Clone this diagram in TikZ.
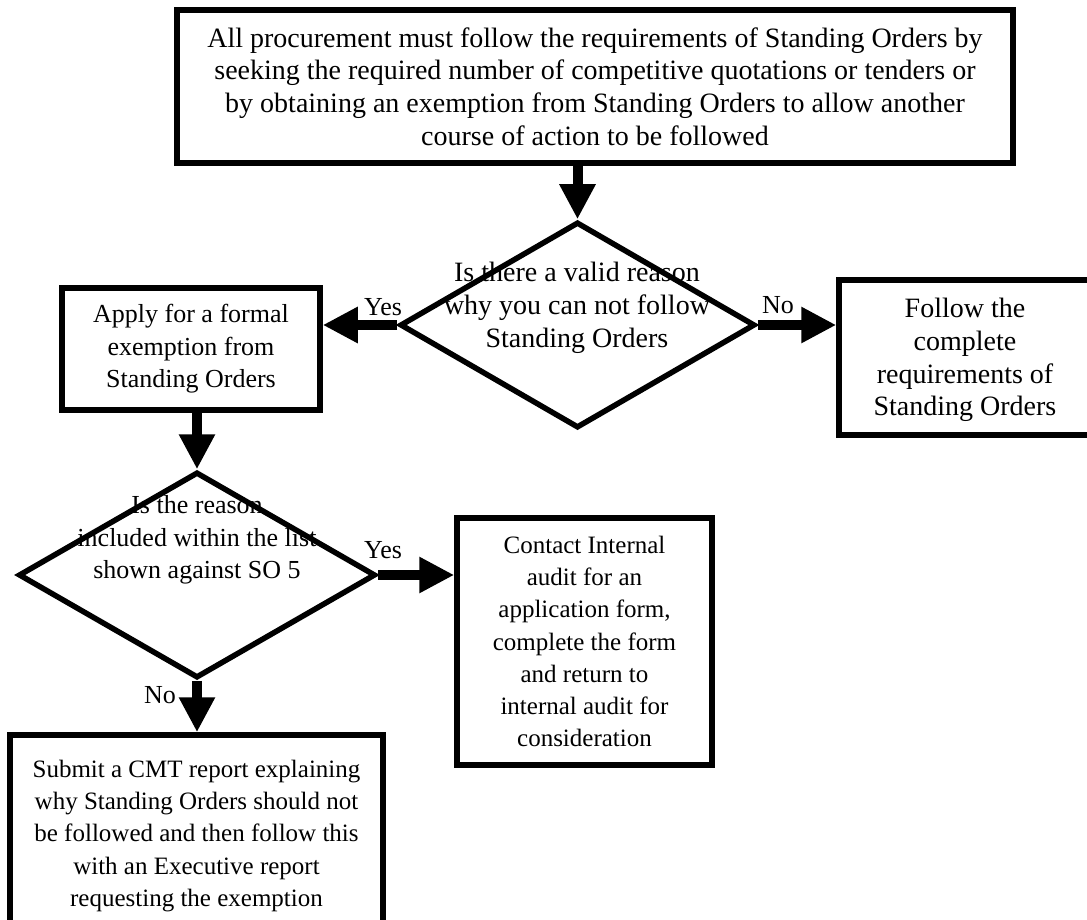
\documentclass[tikz,border=0pt]{standalone}
\usepackage{fontspec}
\setmainfont{Liberation Serif}
\usetikzlibrary{shapes.geometric,arrows.meta}
\tikzset{
  box/.style={draw, line width=5.5pt, fill=white, inner sep=0pt, align=center},
  dia/.style={diamond, draw, line width=5.5pt, inner sep=0pt},
  txt/.style={align=center, inner sep=0pt},
  lbl/.style={inner sep=0pt, font=\fontsize{26}{30}\selectfont},
  big/.style={font=\fontsize{28}{32.8}\selectfont},
  mid/.style={font=\fontsize{26}{32.6}\selectfont},
  small/.style={font=\fontsize{25}{32.3}\selectfont},
  arr/.style={line width=10pt, -{Triangle[width=34pt,length=35pt]}},
}
\begin{document}
\begin{tikzpicture}[x=1pt,y=-1pt]
\clip (0,0) rectangle (1087,920);
% top box
\node[box, big, minimum width=836pt, minimum height=153pt] (top) at (595,86.5)
  {All procurement must follow the requirements of Standing Orders by\\
   seeking the required number of competitive quotations or tenders or\\
   by obtaining an exemption from Standing Orders to allow another\\
   course of action to be followed};
% first decision
\node[dia, minimum width=355pt, minimum height=206pt] (d1) at (577.5,325) {};
\node[txt, big] (t1) at (577,308) {Is there a valid reason\\why you can not follow\\Standing Orders};
% apply box
\node[box, mid, minimum width=258pt, minimum height=122pt] (b2) at (191,349)
  {Apply for a formal\\exemption from\\Standing Orders};
% follow box
\node[box, minimum width=252pt, minimum height=155pt] (b3) at (965,357.5) {};
\node[txt, big] (t3) at (965,360) {Follow the\\complete\\requirements of\\Standing Orders};
% second decision
\node[dia, minimum width=357pt, minimum height=206pt] (d2) at (197,575) {};
\node[txt, mid] (t2) at (197,540) {Is the reason\\included within the list\\shown against SO 5};
% contact box
\node[box, small, minimum width=255pt, minimum height=247pt] (b4) at (584.5,641.5)
  {Contact Internal\\audit for an\\application form,\\complete the form\\and return to\\internal audit for\\consideration};
% CMT box
\node[box, minimum width=373pt, minimum height=225pt] (b5) at (196.5,847.5) {};
\node[txt, small] (t5) at (196.5,836)
  {Submit a CMT report explaining\\why Standing Orders should not\\be followed and then follow this\\with an Executive report\\requesting the exemption};
% connectors
\draw[arr] (top.south -| d1.north) -- (d1.north);
\draw[arr] (d1.west) -- (d1.west -| b2.east);
\draw[arr] (d1.east) -- (d1.east -| b3.west);
\draw[arr] (b2.south -| d2.north) -- (d2.north);
\draw[arr] (d2.east) -- (d2.east -| b4.west);
\draw[arr] (d2.south) -- (d2.south |- b5.north);
% labels
\node[lbl] (yes1) at (383,307) {Yes};
\node[lbl] (no1) at (778,305) {No};
\node[lbl] (yes2) at (383,550) {Yes};
\node[lbl] (no2) at (160,695) {No};
\end{tikzpicture}
\end{document}
